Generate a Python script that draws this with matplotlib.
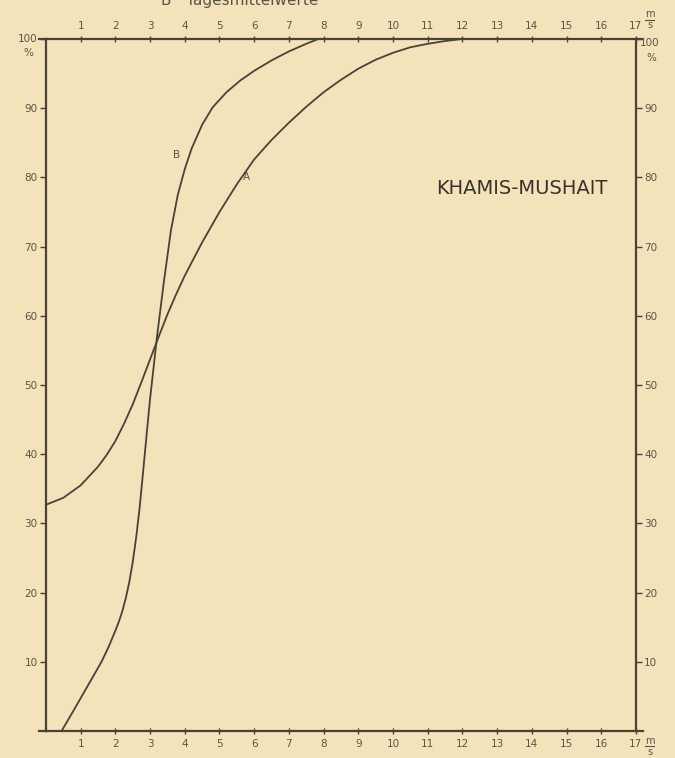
import matplotlib
matplotlib.use("Agg")
import matplotlib.pyplot as plt

# Kurve A und B (Tagesmittelwerte), Summenhaeufigkeit in % ueber m/s
a_x = [0, 0.5, 1.0, 1.5, 1.75, 2.0, 2.25, 2.5, 2.75, 3.0, 3.25, 3.5, 3.75, 4.0, 4.5,
       5.0, 5.5, 6.0, 6.5, 7.0, 7.5, 8.0, 8.5, 9.0, 9.5, 10.0, 10.5, 11.0, 11.5, 12.0]
a_y = [32.7, 33.7, 35.5, 38.2, 39.9, 41.9, 44.4, 47.2, 50.4, 53.7, 57.0, 60.2, 63.1,
       65.8, 70.6, 75.0, 79.0, 82.6, 85.4, 87.9, 90.2, 92.3, 94.1, 95.7, 97.0, 98.0,
       98.8, 99.3, 99.7, 100]

b_x = [0.45, 0.8, 1.2, 1.6, 1.8, 2.0, 2.1, 2.2, 2.3, 2.4, 2.5, 2.6, 2.7, 2.8, 2.9,
       3.0, 3.2, 3.4, 3.6, 3.8, 4.0, 4.2, 4.5, 4.8, 5.2, 5.6, 6.0, 6.5, 7.0, 7.5, 7.85]
b_y = [0, 3.0, 6.5, 10.0, 12.1, 14.5, 15.8, 17.3, 19.2, 21.5, 24.4, 28.0, 32.3, 37.5,
       42.8, 48.0, 57.0, 65.0, 72.3, 77.5, 81.2, 84.2, 87.6, 90.1, 92.3, 94.0, 95.4,
       96.9, 98.2, 99.3, 100]

x_ticks = list(range(1, 18))
y_ticks = list(range(10, 101, 10))

bg = "#f4e2bb"
ink = "#4a4236"
txt = "#5a5448"

fig = plt.figure(figsize=(6.75, 7.58), dpi=100, facecolor=bg)
ax = fig.add_axes([0.0681, 0.0356, 0.874, 0.913])
ax.set_facecolor(bg)

ax.plot(a_x, a_y, color=ink, lw=1.3, clip_on=False, solid_joinstyle="round")
ax.plot(b_x, b_y, color=ink, lw=1.3, clip_on=False, solid_joinstyle="round")

ax.set_xlim(0, 17)
ax.set_ylim(0, 100)

for s in ax.spines.values():
    s.set_color(ink)
    s.set_linewidth(1.6)

ax.set_xticks(x_ticks)
ax.set_yticks(y_ticks)
ax.set_yticklabels([str(v) for v in y_ticks[:-1]] + [""])
ax.tick_params(axis="both", direction="inout", length=5, width=1, color=ink,
               labelsize=7.5, labelcolor=txt,
               top=True, right=True, labeltop=True, labelright=True)
ax.tick_params(axis="y", direction="out", length=4, pad=2)

# 100 % an beiden Seiten
ax.text(-0.24, 100, "100", ha="right", va="center", fontsize=7.5, color=txt)
ax.text(-0.38, 98.0, "%", ha="right", va="center", fontsize=7.5, color=txt)
ax.text(17.1, 99.4, "100", ha="left", va="center", fontsize=7.5, color=txt)
ax.text(17.3, 97.3, "%", ha="left", va="center", fontsize=7.5, color=txt)

# Einheit m/s oben und unten rechts
for ym, yl, ys in [(103.6, 102.8, 102.0), (-1.5, -2.2, -3.0)]:
    ax.text(17.4, ym, "m", ha="center", va="center", fontsize=7, color=txt, clip_on=False)
    ax.plot([17.27, 17.53], [yl, yl], color=txt, lw=0.8, clip_on=False)
    ax.text(17.4, ys, "s", ha="center", va="center", fontsize=7, color=txt, clip_on=False)

# Achsenlinien leicht ueber die Ecken hinaus
ax.plot([-0.2, 0], [0, 0], color=ink, lw=1.6, clip_on=False)
ax.plot([-0.2, 0], [100, 100], color=ink, lw=1.6, clip_on=False)
ax.plot([17, 17.2], [100, 100], color=ink, lw=1.6, clip_on=False)
ax.plot([17, 17.2], [0, 0], color=ink, lw=1.6, clip_on=False)

ax.text(3.76, 83.2, "B", fontsize=7.5, color=txt, ha="center", va="center")
ax.text(5.79, 80.0, "A", fontsize=7.5, color=txt, ha="center", va="center")
ax.text(13.7, 78.4, "KHAMIS-MUSHAIT", fontsize=14, color="#38322a", ha="center", va="center")

# abgeschnittener Titel oben
fig.text(0.355, 1.0, "B   Tagesmittelwerte", fontsize=11, color=txt, ha="center", va="center")

fig.savefig("out.png", dpi=100, facecolor=bg)
